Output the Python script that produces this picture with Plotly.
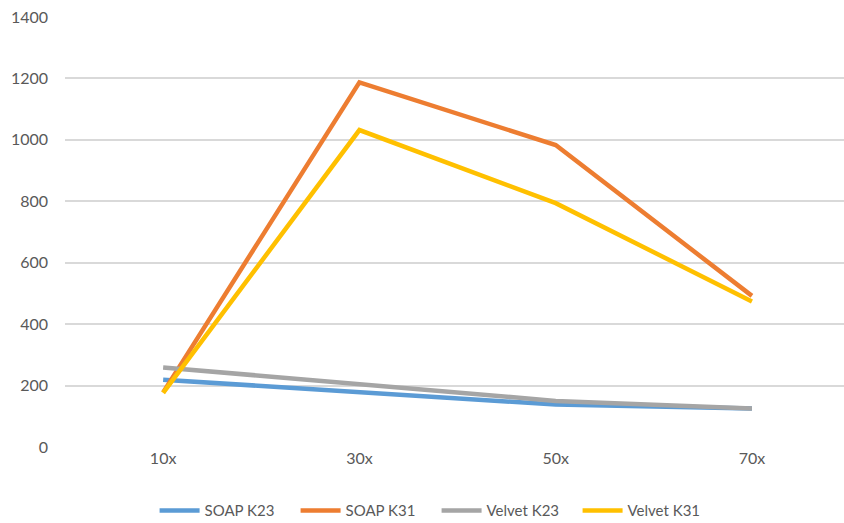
import plotly.graph_objects as go

# Coverage levels on the x axis
categories = ["10x", "30x", "50x", "70x"]

# Series values
soap_k23 = [219, 180, 138, 125]
soap_k31 = [178, 1187, 983, 492]
velvet_k23 = [259, 203, 150, 125]
velvet_k31 = [176, 1032, 794, 474]

y_ticks = [0, 200, 400, 600, 800, 1000, 1200, 1400]

series = [
    ("SOAP K23", soap_k23, "#5B9BD5"),
    ("SOAP K31", soap_k31, "#ED7D31"),
    ("Velvet K23", velvet_k23, "#A5A5A5"),
    ("Velvet K31", velvet_k31, "#FFC000"),
]

fig = go.Figure()
for name, vals, color in series:
    fig.add_trace(go.Scatter(
        x=categories, y=vals, name=name, mode="lines",
        line=dict(color=color, width=4.5),
    ))

font_family = "Lato, 'Open Sans', sans-serif"
fig.update_layout(
    width=844, height=523,
    margin=dict(l=65, r=0, t=17, b=76, autoexpand=False),
    paper_bgcolor="white", plot_bgcolor="white",
    font=dict(family=font_family, size=16, color="#595959"),
    showlegend=True,
    legend=dict(
        orientation="h", x=0.115, xanchor="left",
        y=-0.148, yanchor="middle",
        font=dict(size=15, color="#595959"),
        entrywidth=86, entrywidthmode="pixels",
        itemwidth=40, tracegroupgap=0,
    ),
    xaxis=dict(
        type="category", range=[-0.5, 3.469],
        showgrid=False, zeroline=False, showline=False,
        ticks="", tickfont=dict(size=16, color="#595959"),
    ),
    yaxis=dict(
        range=[0, 1400], tickvals=y_ticks,
        showgrid=True, gridcolor="#D9D9D9", gridwidth=1.5,
        zeroline=False, showline=False, ticks="",
        ticklabelstandoff=16,
        tickfont=dict(size=16, color="#595959"),
    ),
)

fig.write_html("out.html")
